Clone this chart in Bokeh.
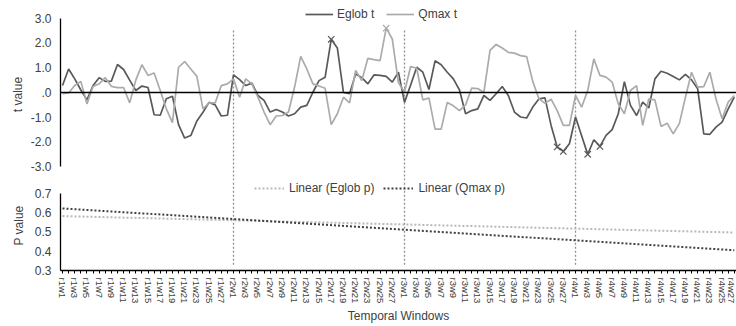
from bokeh.plotting import figure
from bokeh.layouts import column
from bokeh.models import Range1d, Span, Legend, LegendItem, FixedTicker, NumeralTickFormatter
from bokeh.embed import file_html
from bokeh.resources import INLINE

# ---------------- data ----------------
runs = [1, 2, 3, 4]
weeks = list(range(1, 29))
windows = [f"r{r}w{w}" for r in runs for w in weeks][:111]

eglob_t = [
    0.28, 0.95, 0.55, 0.10, -0.30, 0.28, 0.60, 0.45, 0.46, 1.13, 0.93, 0.50, 0.08, 0.26,
    0.20, -0.90, -0.92, -0.25, -0.15, -1.30, -1.84, -1.74, -1.15, -0.80, -0.40, -0.50, -0.95, -0.92,
    0.71, 0.52, 0.28, 0.38, -0.12, -0.32, -0.79, -0.69, -0.79, -0.95, -0.86, -0.59, -0.52, 0.01,
    0.48, 0.62, 2.15, 1.80, 0.00, -0.05, 0.75, 0.60, 0.35, 0.71, 0.69, 0.65, 0.42, 0.82,
    -0.40, 0.30, 1.02, 0.82, 0.12, 1.28, 1.12, 0.82, 0.55, 0.10, -0.86, -0.73, -0.66, -0.12,
    -0.32, -0.05, 0.24, -0.12, -0.79, -0.99, -1.03, -0.59, -0.26, -0.22, -1.33, -2.20, -2.38, -2.07,
    -0.99, -1.75, -2.50, -1.91, -2.18, -1.73, -1.50, -0.86, 0.44, -0.52, -0.93, -0.39, -0.62, 0.55,
    0.86, 0.78, 0.65, 0.51, 0.73, 0.51, 0.15, -1.67, -1.69, -1.40, -1.20, -0.66, -0.19,
]
qmax_t = [
    -0.05, -0.02, 0.28, 0.45, -0.46, 0.24, 0.35, 0.60, 0.25, 0.20, 0.20, -0.42, 0.50, 1.12,
    0.69, 0.79, 0.08, -0.66, -1.22, 1.02, 1.25, 0.95, 0.65, -0.66, -0.42, -0.42, 0.28, 0.35,
    0.55, -0.19, 0.55, 0.35, -0.19, -0.79, -1.30, -0.95, -0.93, -0.79, 0.22, 1.46, 0.95, 0.35,
    0.26, 0.17, -1.30, -0.86, -0.19, -0.42, 0.89, 0.48, 1.38, 1.33, 1.29, 2.60, 2.16, 0.40,
    0.02, 1.05, 0.98, -0.30, -0.22, -1.48, -1.48, -0.40, -0.54, -0.73, -0.50, 0.18, 0.16, 0.00,
    1.70, 1.94, 1.80, 1.62, 1.59, 1.49, 1.45, 0.45, -0.25, -0.44, -0.27, -0.73, -1.33, -1.33,
    -0.12, -0.59, 0.08, 1.36, 0.69, 0.62, 0.42, -0.46, -0.86, 0.08, 0.28, -1.33, -0.26, -0.30,
    -1.37, -1.24, -1.67, -1.26, -0.19, 0.82, 0.22, 0.24, 0.82, -0.26, -1.06, -0.39, -0.12,
]
sig_eglob = ["r2w17", "r3w26", "r3w27", "r4w3", "r4w5"]
sig_qmax = ["r2w26"]
run_starts = ["r2w1", "r3w1", "r4w1"]

trend_windows = ["r1w1", "r4w27"]
eglob_p_trend = [0.582, 0.497]
qmax_p_trend = [0.622, 0.405]

t_ticks = [-3, -2, -1, 0, 1, 2, 3]
t_tick_labels = ["-3.0", "-2.0", "-1.0", ".0", "1.0", "2.0", "3.0"]
p_ticks = [0.3, 0.4, 0.5, 0.6, 0.7]

# ---------------- helpers ----------------
idx = {w: i for i, w in enumerate(windows)}
xs = [idx[w] for w in windows]

FONT = "Liberation Sans"
TXT = "#404040"
DARK = "#595959"
LIGHT = "#ababab"
SEP = "#8f8f8f"

xr = Range1d(-0.33, 110.36)

# ---------------- top panel ----------------
p1 = figure(width=736, height=180, x_range=xr, y_range=Range1d(-3.556, 3.394),
            output_backend="svg", toolbar_location=None, tools="",
            min_border_left=60, min_border_right=0, min_border_top=8, min_border_bottom=0)
p1.xaxis.visible = False
p1.grid.visible = False
p1.outline_line_color = None

ya = p1.yaxis[0]
ya.ticker = FixedTicker(ticks=t_ticks)
ya.major_label_overrides = {t: l for t, l in zip(t_ticks, t_tick_labels)}
ya.bounds = (-3, 3)
ya.axis_line_color = "black"
ya.axis_line_width = 1.3
ya.major_tick_out = 0
ya.major_tick_in = 0
ya.minor_tick_out = 0
ya.minor_tick_in = 0
ya.major_label_standoff = 9
ya.major_label_text_font = FONT
ya.major_label_text_font_size = "12px"
ya.major_label_text_color = TXT
ya.axis_label = "t value"
ya.axis_label_text_font = FONT
ya.axis_label_text_font_size = "12px"
ya.axis_label_text_font_style = "normal"
ya.axis_label_text_color = TXT
ya.axis_label_standoff = 3

p1.add_layout(Span(location=0, dimension="width", line_color="black", line_width=1.5))
sx = [idx[w] for w in run_starts]
p1.segment(x0=sx, x1=sx, y0=[-3.556] * len(sx), y1=[2.55] * len(sx),
           line_color=SEP, line_width=1.3, line_dash="2 2")

r_e = p1.line(xs, eglob_t, line_color=DARK, line_width=1.7)
r_q = p1.line(xs, qmax_t, line_color=LIGHT, line_width=1.7)
p1.scatter([idx[w] for w in sig_eglob], [eglob_t[idx[w]] for w in sig_eglob],
           marker="x", size=9, line_color=DARK, line_width=1.2)
p1.scatter([idx[w] for w in sig_qmax], [qmax_t[idx[w]] for w in sig_qmax],
           marker="x", size=9, line_color=LIGHT, line_width=1.2)

leg1 = Legend(items=[LegendItem(label="Eglob t", renderers=[r_e]),
                     LegendItem(label="Qmax t", renderers=[r_q])],
              orientation="horizontal", location=(245, 159),
              background_fill_alpha=0, border_line_color=None,
              padding=0, margin=0, spacing=12, glyph_width=28, glyph_height=12,
              label_height=12, label_standoff=4,
              label_text_font=FONT, label_text_font_size="12px", label_text_color=TXT)
p1.add_layout(leg1, "center")

# ---------------- bottom panel ----------------
p2 = figure(width=736, height=146, x_range=xr, y_range=Range1d(0.3, 0.7667),
            output_backend="svg", toolbar_location=None, tools="",
            min_border_left=60, min_border_right=0, min_border_top=0, min_border_bottom=0)
p2.grid.visible = False
p2.outline_line_color = None

ya2 = p2.yaxis[0]
ya2.ticker = FixedTicker(ticks=p_ticks)
ya2.formatter = NumeralTickFormatter(format="0.0")
ya2.bounds = (0.3, 0.7)
ya2.axis_line_color = "black"
ya2.axis_line_width = 1.3
ya2.major_tick_out = 0
ya2.major_tick_in = 0
ya2.minor_tick_out = 0
ya2.minor_tick_in = 0
ya2.major_label_standoff = 9
ya2.major_label_text_font = FONT
ya2.major_label_text_font_size = "12px"
ya2.major_label_text_color = TXT
ya2.axis_label = "P value"
ya2.axis_label_text_font = FONT
ya2.axis_label_text_font_size = "12px"
ya2.axis_label_text_font_style = "normal"
ya2.axis_label_text_color = TXT
ya2.axis_label_standoff = 6

xa = p2.xaxis[0]
xa.ticker = FixedTicker(ticks=xs)
xa.major_label_overrides = {i: (w if int(w.split("w")[1]) % 2 == 1 else "") for i, w in enumerate(windows)}
xa.major_label_orientation = "vertical"
xa.axis_line_color = "black"
xa.axis_line_width = 1.3
xa.major_tick_out = 3
xa.major_tick_in = 0
xa.major_tick_line_color = "black"
xa.minor_tick_out = 0
xa.minor_tick_in = 0
xa.major_label_standoff = 4
xa.major_label_text_font = FONT
xa.major_label_text_font_size = "9.5px"
xa.major_label_text_color = TXT
xa.axis_label = "Temporal Windows"
xa.axis_label_text_font = FONT
xa.axis_label_text_font_size = "12px"
xa.axis_label_text_font_style = "normal"
xa.axis_label_text_color = TXT
xa.axis_label_standoff = 3

p2.segment(x0=sx, x1=sx, y0=[0.33] * len(sx), y1=[0.7667] * len(sx),
           line_color=SEP, line_width=1.3, line_dash="2 2")

tx = [idx[w] for w in trend_windows]
r_ep = p2.line(tx, eglob_p_trend, line_color="#b8b8b8", line_width=2, line_dash="2 2")
r_qp = p2.line(tx, qmax_p_trend, line_color="#404040", line_width=2, line_dash="2 2")

leg2 = Legend(items=[LegendItem(label="Linear (Eglob p)", renderers=[r_ep]),
                     LegendItem(label="Linear (Qmax p)", renderers=[r_qp])],
              orientation="horizontal", location=(194, 75),
              background_fill_alpha=0, border_line_color=None,
              padding=0, margin=0, spacing=9, glyph_width=30, glyph_height=12,
              label_height=12, label_standoff=5,
              label_text_font=FONT, label_text_font_size="12px", label_text_color=TXT)
p2.add_layout(leg2, "center")

layout = column(p1, p2, spacing=0)
open("out.html", "w").write(file_html(layout, INLINE))
